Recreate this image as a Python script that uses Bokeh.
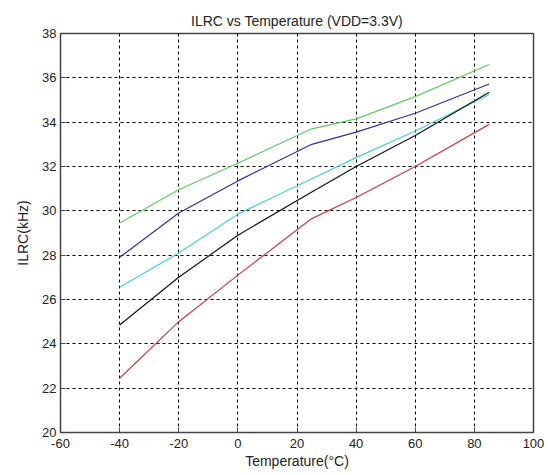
from bokeh.plotting import figure
from bokeh.models import Range1d, FixedTicker, PrintfTickFormatter
from bokeh.embed import file_html
from bokeh.resources import INLINE

temps = [-40, -20, 0, 25, 40, 60, 85]
green = [29.45, 30.95, 32.15, 33.7, 34.15, 35.15, 36.6]
blue = [27.9, 29.9, 31.35, 33.0, 33.55, 34.4, 35.72]
cyan = [26.55, 28.1, 29.85, 31.45, 32.4, 33.6, 35.25]
black = [24.85, 27.0, 28.9, 30.85, 32.0, 33.4, 35.35]
red = [22.45, 25.0, 27.1, 29.65, 30.6, 32.0, 33.9]

x_ticks = [-60, -40, -20, 0, 20, 40, 60, 80, 100]
y_ticks = [20, 22, 24, 26, 28, 30, 32, 34, 36, 38]

FONT = "Liberation Sans"

p = figure(width=548, height=475, output_backend="svg", toolbar_location=None,
           x_range=Range1d(-60, 100), y_range=Range1d(20, 38),
           min_border_left=60, min_border_right=15, min_border_top=33,
           min_border_bottom=43, title="ILRC vs Temperature (VDD=3.3V)")

p.title.align = "center"
p.title.text_font = FONT
p.title.text_font_size = "14px"
p.title.text_font_style = "normal"
p.title.text_color = "#222222"
p.title.offset = 0

p.background_fill_color = "white"
p.border_fill_color = "white"
p.outline_line_color = "#444444"
p.outline_line_width = 1.5

for ax in (p.xaxis, p.yaxis):
    ax.axis_line_color = None
    ax.major_tick_in = 5
    ax.major_tick_out = 0
    ax.minor_tick_line_color = None
    ax.major_tick_line_color = "#444444"
    ax.major_label_text_font = FONT
    ax.major_label_text_font_size = "13px"
    ax.major_label_text_color = "#222222"
    ax.axis_label_text_font = FONT
    ax.axis_label_text_font_size = "14px"
    ax.axis_label_text_font_style = "normal"
    ax.axis_label_text_color = "#222222"
    ax.formatter = PrintfTickFormatter(format="%d")

p.xaxis.ticker = FixedTicker(ticks=x_ticks)
p.yaxis.ticker = FixedTicker(ticks=y_ticks)
p.xaxis.axis_label = "Temperature(°C)"
p.yaxis.axis_label = "ILRC(kHz)"
p.xaxis.major_label_standoff = 6
p.yaxis.major_label_standoff = 4
p.xaxis.axis_label_standoff = 2
p.yaxis.axis_label_standoff = 8

p.grid.grid_line_color = "black"
p.grid.grid_line_dash = "3 3"
p.grid.grid_line_width = 1

p.line(temps, green, line_color="#5fcc5f", line_width=1.2)
p.line(temps, blue, line_color="#30309a", line_width=1.2)
p.line(temps, cyan, line_color="#40d0d8", line_width=1.2)
p.line(temps, black, line_color="#111111", line_width=1.2)
p.line(temps, red, line_color="#cc3b3b", line_width=1.2)

open("out.html", "w").write(file_html(p, INLINE))
